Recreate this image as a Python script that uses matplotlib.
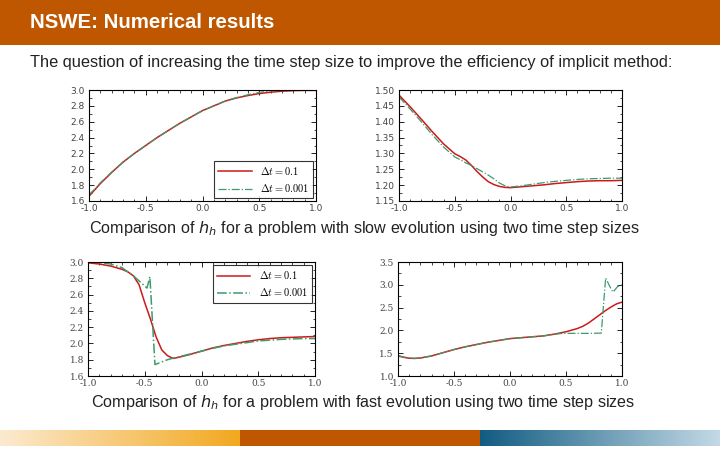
import numpy as np
import matplotlib
matplotlib.use("Agg")
import matplotlib.pyplot as plt
from matplotlib.patches import Rectangle
from matplotlib.font_manager import FontProperties
from matplotlib.ticker import MultipleLocator, AutoMinorLocator, FormatStrFormatter

# ---------------- data ----------------
title = "NSWE: Numerical results"
subtitle = "The question of increasing the time step size to improve the efficiency of implicit method:"
caption_slow = "Comparison of $h_h$ for a problem with slow evolution using two time step sizes"
caption_fast = "Comparison of $h_h$ for a problem with fast evolution using two time step sizes"
labels = [r"$\Delta t = 0.1$", r"$\Delta t = 0.001$"]

# slow evolution, left panel
x_sl = [-1.0, -0.95, -0.9, -0.8, -0.7, -0.6, -0.5, -0.4, -0.3, -0.2, -0.1,
        0.0, 0.1, 0.2, 0.3, 0.4, 0.5, 0.6, 0.7, 0.8, 0.9, 1.0]
sl_red = [1.66, 1.74, 1.82, 1.96, 2.09, 2.20, 2.30, 2.40, 2.49, 2.58, 2.66,
          2.74, 2.80, 2.86, 2.90, 2.93, 2.955, 2.972, 2.985, 2.992, 2.995, 2.995]
sl_green = [1.68, 1.75, 1.83, 1.965, 2.09, 2.20, 2.30, 2.40, 2.49, 2.58, 2.66,
            2.74, 2.80, 2.86, 2.905, 2.94, 2.97, 2.988, 2.997, 3.0, 3.0, 2.998]

# slow evolution, right panel
x_sr = [-1.0, -0.9, -0.8, -0.7, -0.6, -0.5, -0.45, -0.4, -0.35, -0.3, -0.25,
        -0.2, -0.15, -0.1, -0.05, 0.0, 0.1, 0.2, 0.3, 0.4, 0.5, 0.6, 0.7, 0.8, 0.9, 1.0]
sr_red = [1.484, 1.447, 1.408, 1.368, 1.330, 1.299, 1.290, 1.279, 1.262, 1.243, 1.226,
          1.211, 1.202, 1.196, 1.193, 1.192, 1.195, 1.198, 1.201, 1.205, 1.208,
          1.211, 1.213, 1.214, 1.214, 1.215]
sr_green = [1.478, 1.440, 1.400, 1.358, 1.320, 1.289, 1.280, 1.270, 1.262, 1.252, 1.242,
            1.232, 1.220, 1.207, 1.198, 1.194, 1.198, 1.203, 1.208, 1.212, 1.215,
            1.218, 1.220, 1.221, 1.222, 1.222]

# fast evolution, left panel
x_fl_red = [-1.0, -0.9, -0.8, -0.7, -0.65, -0.6, -0.55, -0.5, -0.45, -0.4, -0.35,
            -0.3, -0.25, -0.2, -0.1, 0.0, 0.1, 0.2, 0.3, 0.4, 0.5, 0.6, 0.7, 0.8, 0.9, 1.0]
fl_red = [2.99, 2.975, 2.95, 2.91, 2.88, 2.83, 2.72, 2.50, 2.30, 2.08, 1.92,
          1.85, 1.815, 1.83, 1.865, 1.905, 1.945, 1.975, 2.0, 2.025, 2.045,
          2.06, 2.07, 2.075, 2.08, 2.085]
x_fl_green = [-1.0, -0.9, -0.8, -0.7, -0.6, -0.48, -0.455, -0.41, -0.3, -0.25, -0.2,
              -0.1, 0.0, 0.1, 0.2, 0.3, 0.4, 0.5, 0.6, 0.7, 0.8, 0.9, 1.0]
fl_green = [3.0, 2.995, 2.975, 2.93, 2.83, 2.68, 2.82, 1.74, 1.80, 1.82, 1.835,
            1.87, 1.905, 1.94, 1.97, 1.99, 2.01, 2.03, 2.04, 2.05, 2.055, 2.06, 2.06]

# fast evolution, right panel
x_fr_red = [-1.0, -0.95, -0.9, -0.85, -0.8, -0.7, -0.6, -0.5, -0.4, -0.3, -0.2, -0.1,
            0.0, 0.1, 0.2, 0.3, 0.4, 0.5, 0.6, 0.65, 0.7, 0.75, 0.8, 0.85, 0.9, 0.95, 1.0]
fr_red = [1.44, 1.41, 1.39, 1.385, 1.395, 1.44, 1.51, 1.58, 1.64, 1.69, 1.74, 1.78,
          1.82, 1.84, 1.86, 1.88, 1.92, 1.97, 2.04, 2.09, 2.16, 2.25, 2.34, 2.43,
          2.51, 2.58, 2.62]
x_fr_green = [-1.0, -0.95, -0.9, -0.85, -0.8, -0.7, -0.6, -0.5, -0.4, -0.3, -0.2, -0.1,
              0.0, 0.1, 0.2, 0.3, 0.4, 0.45, 0.5, 0.6, 0.7, 0.815, 0.854, 0.9, 0.92,
              0.96, 1.0]
fr_green = [1.45, 1.415, 1.393, 1.388, 1.397, 1.44, 1.51, 1.58, 1.64, 1.69, 1.74, 1.78,
            1.82, 1.84, 1.86, 1.88, 1.915, 1.93, 1.935, 1.935, 1.935, 1.94, 3.15,
            2.92, 2.84, 2.96, 3.0]

# ---------------- style ----------------
RED = "#cc1a1a"
GREEN = "#3f9a6e"
ORANGE = "#bf5700"
TEXTFAM = ["Liberation Sans", "DejaVu Sans"]

fig = plt.figure(figsize=(7.2, 4.5), dpi=100)
fig.patch.set_facecolor("white")

W, H = 720.0, 450.0


def ax_at(x0, y0, x1, y1):
    return fig.add_axes([x0 / W, 1 - y1 / H, (x1 - x0) / W, (y1 - y0) / H])


# header
fig.add_artist(Rectangle((0, 1 - 45 / H), 1, 45 / H, transform=fig.transFigure,
                         facecolor=ORANGE, edgecolor="none"))
fig.text(30 / W, 1 - 22 / H, title, color="white", fontsize=14.7, fontweight="bold",
         family=TEXTFAM, va="center", ha="left")
fig.text(30 / W, 1 - 62 / H, subtitle, color="#222222", fontsize=11.8,
         family=TEXTFAM, va="center", ha="left")
fig.text(364 / W, 1 - 228 / H, caption_slow, color="#222222", fontsize=11.6,
         family=TEXTFAM, va="center", ha="center", math_fontfamily="dejavusans")
fig.text(363 / W, 1 - 403 / H, caption_fast, color="#222222", fontsize=11.6,
         family=TEXTFAM, va="center", ha="center", math_fontfamily="dejavusans")

# footer bar
fax = fig.add_axes([0, 1 - 446 / H, 1, 16 / H])
fax.set_axis_off()
stops_c = [(252, 234, 208), (242, 168, 30), (191, 87, 0), (191, 87, 0),
           (18, 92, 130), (196, 218, 230)]
cols = np.zeros((1, 720, 3))
for i in range(720):
    if i < 240:
        f = i / 240
        a, b = np.array(stops_c[0]), np.array(stops_c[1])
    elif i < 480:
        f = 0
        a, b = np.array(stops_c[2]), np.array(stops_c[3])
    else:
        f = (i - 480) / 240
        a, b = np.array(stops_c[4]), np.array(stops_c[5])
    cols[0, i] = (a + (b - a) * f) / 255
fax.imshow(cols, aspect="auto", extent=(0, 1, 0, 1))
fax.set_xlim(0, 1)


def style(ax, ylim, ystep, yfmt, serif=False):
    ax.set_xlim(-1.0, 1.0)
    ax.set_ylim(*ylim)
    ax.xaxis.set_major_locator(MultipleLocator(0.5))
    ax.yaxis.set_major_locator(MultipleLocator(ystep))
    ax.xaxis.set_minor_locator(AutoMinorLocator(5))
    ax.yaxis.set_minor_locator(AutoMinorLocator(2))
    ax.xaxis.set_major_formatter(FormatStrFormatter("%.1f"))
    ax.yaxis.set_major_formatter(FormatStrFormatter(yfmt))
    ax.tick_params(which="both", direction="in", top=True, right=True,
                   labelsize=6.5, labelcolor="#444444")
    ax.tick_params(axis="x", pad=2.5)
    ax.tick_params(axis="y", pad=3)
    ax.tick_params(which="major", length=3.5, width=0.6)
    ax.tick_params(which="minor", length=1.8, width=0.5)
    fam = "DejaVu Serif" if serif else "DejaVu Sans"
    for lab in ax.get_xticklabels() + ax.get_yticklabels():
        lab.set_family(fam)
    for s in ax.spines.values():
        s.set_linewidth(0.8)


legprop = FontProperties(family="DejaVu Serif", size=7.5, math_fontfamily="cm")

# top-left
ax1 = ax_at(89, 90, 316, 201)
ax1.plot(x_sl, sl_red, color=RED, lw=1.1, label=labels[0])
ax1.plot(x_sl, sl_green, color=GREEN, lw=0.9, ls="-.", label=labels[1])
style(ax1, (1.6, 3.0), 0.2, "%.1f")
leg = ax1.legend(loc="lower right", prop=legprop, frameon=True, fancybox=False,
                 edgecolor="black", borderaxespad=0.25, handlelength=3.2)
leg.get_frame().set_linewidth(0.8)

# top-right
ax2 = ax_at(399, 90, 622, 201)
ax2.plot(x_sr, sr_red, color=RED, lw=1.1)
ax2.plot(x_sr, sr_green, color=GREEN, lw=0.9, ls="-.")
style(ax2, (1.15, 1.50), 0.05, "%.2f")

# bottom-left
ax3 = ax_at(88, 262, 315, 376)
ax3.plot(x_fl_red, fl_red, color=RED, lw=1.1, label=labels[0])
ax3.plot(x_fl_green, fl_green, color=GREEN, lw=1.1, ls="-.", label=labels[1])
style(ax3, (1.6, 3.0), 0.2, "%.1f", serif=True)
leg = ax3.legend(loc="upper right", prop=legprop, frameon=True, fancybox=False,
                 edgecolor="black", borderaxespad=0.3, handlelength=3.2)
leg.get_frame().set_linewidth(0.8)

# bottom-right
ax4 = ax_at(398, 262, 622, 376)
ax4.plot(x_fr_red, fr_red, color=RED, lw=1.1)
ax4.plot(x_fr_green, fr_green, color=GREEN, lw=0.9, ls="-.")
style(ax4, (1.0, 3.5), 0.5, "%.1f", serif=True)

fig.savefig("out.png", dpi=100, facecolor="white")
